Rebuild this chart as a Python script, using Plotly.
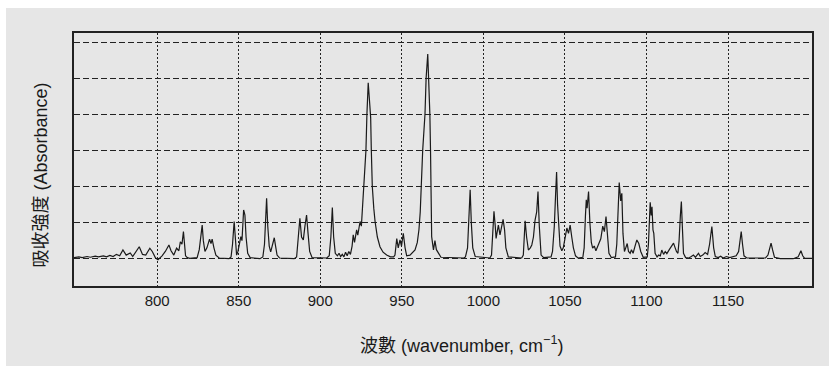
import plotly.graph_objects as go

# Spectrum vertices (wavenumber, absorbance)
wavenumber = [
    749, 752, 754, 757, 759, 762, 764, 767, 769, 771, 773, 775, 777, 779, 781, 783.5, 785, 787, 789, 791,
    793, 795.5, 797, 799, 800.5, 803, 805, 807.2, 808.5, 810.2, 811.9, 813.3, 814.2, 815.2, 816.1, 817.4,
    818.5, 820, 824.5, 825.8, 826.8, 827.6, 828.3, 829.3, 830.5, 832.1, 833, 833.7, 834.8, 836, 838, 844,
    845.3, 846.2, 847.2, 848, 848.7, 849.5, 850.5, 851.3, 852, 853, 853.8, 854.5, 855.5, 857, 863,
    864.8, 865.8, 866.5, 867.1, 867.8, 868.7, 869.6, 870.6, 871.8, 872.6, 873.5, 875, 884,
    885.5, 886.5, 887.5, 888.5, 889.6, 890.6, 891.6, 892.5, 893.5, 895, 904,
    905.5, 906.5, 907.4, 908.2, 909.2, 910.5, 911.5, 912.5, 913.5, 914.5, 915.5, 916.5, 917.5, 918.5,
    919.5, 920.2, 921, 922.3, 923, 924.4, 925.2, 926.2, 926.8, 927.4, 928, 928.6, 929.4, 930.3, 930.9,
    931.3, 931.9, 932.8, 933.6, 935, 936.6, 938.5, 940.7, 943, 945,
    945.8, 946.9, 947.8, 948.9, 949.8, 950.9, 952, 953, 955, 957, 958.1, 959.5, 960.5, 961.3, 961.9,
    962.8, 964.2, 964.9, 965.9, 966.5, 967.2, 967.6, 967.8, 968.0, 968.3, 969.4, 970.3, 971.2, 972.4, 974, 988,
    989, 990.3, 991.2, 991.9, 992.6, 993.5, 995, 1004,
    1005, 1005.8, 1006.5, 1007.3, 1007.8, 1008.5, 1009.2, 1010.2, 1011.2, 1012.1, 1013, 1013.8, 1015.3, 1023.5,
    1024.5, 1025.6, 1026.5, 1027.6, 1028.8, 1029.7, 1030.7, 1031.7, 1032.7, 1033.5, 1034.3, 1035.4, 1037, 1041.5,
    1042.4, 1043.5, 1044.3, 1044.9, 1045.5, 1046.2, 1047, 1048.1, 1049, 1050, 1051.2, 1052.2, 1053.2, 1054.2,
    1055.2, 1056.5, 1058, 1061,
    1061.8, 1062.6, 1063.1, 1063.6, 1064.5, 1065.3, 1066.2, 1067, 1068, 1069, 1070, 1071, 1072, 1073.2, 1074.2,
    1075.2, 1076, 1077, 1078.5, 1081,
    1081.8, 1082.6, 1083.3, 1084.2, 1084.9, 1085.6, 1086.5, 1087.3, 1088.2, 1089, 1090, 1090.8, 1091.8, 1093,
    1094.1, 1095.3, 1096.5, 1098, 1100.5,
    1101.2, 1101.8, 1102.3, 1102.9, 1103.4, 1104.0, 1104.5, 1105.3, 1106.5, 1107.5, 1108.5, 1109.4, 1110.5,
    1111.5, 1112.5, 1114, 1115.5, 1116.6, 1117.6, 1118.4, 1119.3, 1120, 1120.8, 1121.4, 1122, 1122.7, 1124,
    1126, 1127.5, 1128.8, 1130, 1131.9, 1133, 1134.5, 1136, 1137.5, 1138.7, 1140.1, 1141.2, 1142.2, 1144,
    1145.5, 1147, 1149, 1151, 1153, 1155, 1156.5, 1157.4, 1158.1, 1158.9, 1159.8, 1161.5, 1168, 1173, 1174.5,
    1175.5, 1176.4, 1177.3, 1178.5, 1182, 1186, 1190, 1193, 1194.7, 1195.8, 1197, 1201.5,
]
absorbance = [
    0.03, 0.05, 0.03, 0.06, 0.04, 0.07, 0.05, 0.08, 0.05, 0.09, 0.06, 0.12, 0.08, 0.24, 0.10, 0.16, 0.06, 0.18, 0.33, 0.12,
    0.10, 0.29, 0.20, 0.02, -0.03, 0.08, 0.20, 0.38, 0.22, 0.10, 0.29, 0.22, 0.47, 0.40, 0.75, 0.08,
    0.03, 0.01, 0.03, 0.25, 0.60, 0.93, 0.50, 0.20, 0.30, 0.54, 0.42, 0.54, 0.30, 0.10, 0.02, 0.00,
    0.05, 0.40, 1.03, 0.50, 0.10, 0.20, 0.45, 0.61, 0.50, 1.35, 1.21, 0.60, 0.15, 0.03, 0.00,
    0.05, 0.40, 1.00, 1.67, 0.90, 0.35, 0.19, 0.35, 0.58, 0.35, 0.10, 0.02, 0.00,
    0.05, 0.50, 1.12, 0.60, 0.52, 0.90, 1.21, 0.70, 0.20, 0.03, 0.02,
    0.08, 0.60, 1.42, 0.60, 0.15, 0.08, 0.15, 0.06, 0.12, 0.05, 0.18, 0.08, 0.20, 0.12,
    0.35, 0.66, 0.45, 0.80, 0.65, 1.03, 0.90, 1.60, 2.00, 2.40, 3.00, 4.00, 4.87, 4.30, 3.90,
    3.00, 2.00, 1.40, 1.03, 0.60, 0.33, 0.18, 0.10, 0.05, 0.05,
    0.10, 0.56, 0.30, 0.52, 0.35, 0.70, 0.30, 0.08, 0.10, 0.18, 0.24, 0.45, 0.80, 1.30, 2.00,
    3.00, 4.00, 5.00, 5.67, 5.00, 4.00, 3.00, 2.00, 1.00, 0.61, 0.24, 0.50, 0.25, 0.15, 0.04, 0.02,
    0.05, 0.30, 1.00, 1.91, 1.00, 0.30, 0.06, 0.02,
    0.10, 0.60, 1.31, 0.90, 0.56, 0.75, 0.93, 0.66, 0.90, 1.09, 0.80, 0.30, 0.05, 0.02,
    0.10, 1.05, 0.60, 0.24, 0.30, 0.38, 0.60, 1.07, 1.30, 1.86, 0.90, 0.10, 0.03, 0.05,
    0.20, 0.90, 1.80, 2.40, 1.50, 0.80, 0.35, 0.22, 0.30, 0.55, 0.85, 0.70, 0.93, 0.60,
    0.30, 0.08, 0.02, 0.04,
    0.30, 1.20, 1.63, 1.40, 1.86, 1.00, 0.45, 0.29, 0.35, 0.22, 0.32, 0.40, 0.55, 0.90, 0.75,
    1.17, 0.60, 0.15, 0.03, 0.05,
    0.40, 1.30, 2.11, 1.60, 1.81, 0.70, 0.20, 0.30, 0.42, 0.20, 0.15, 0.25, 0.15, 0.35,
    0.52, 0.42, 0.20, 0.04, 0.05,
    0.40, 1.20, 1.56, 1.20, 1.44, 0.80, 0.70, 0.15, 0.05, 0.10, 0.08, 0.24, 0.12,
    0.20, 0.14, 0.25, 0.35, 0.43, 0.30, 0.20, 0.15, 0.50, 1.20, 1.58, 0.90, 0.15, 0.03,
    0.02, 0.06, 0.10, 0.04, 0.15, 0.06, 0.10, 0.17, 0.12, 0.40, 0.89, 0.30, 0.06, 0.03,
    0.07, 0.02, 0.06, 0.03, 0.06, 0.08, 0.20, 0.50, 0.75, 0.40, 0.08, 0.02, 0.01, 0.02, 0.10,
    0.30, 0.43, 0.25, 0.04, 0.00, 0.01, 0.00, 0.05, 0.22, 0.08, 0.01, 0.01,
]

x_ticks = [800, 850, 900, 950, 1000, 1050, 1100, 1150]
x_title = "波數 (wavenumber, cm<sup>−1</sup>)"
y_title = "吸收強度 (Absorbance)"

FONT = "Liberation Sans, Arial, Noto Sans CJK TC, sans-serif"

fig = go.Figure()
fig.add_trace(go.Scatter(
    x=wavenumber, y=absorbance, mode="lines",
    line=dict(color="#1a1a1a", width=1.2),
    hoverinfo="skip", showlegend=False,
))

# light-gray page panel behind the chart (thin white strip at top/left as in the reference)
fig.add_shape(type="rect", xref="paper", yref="paper",
              x0=-0.0921, x1=1.05, y0=-0.35, y1=1.0988,
              fillcolor="#e6e6e6", line=dict(width=0), layer="below")

fig.add_annotation(text=x_title, xref="paper", yref="paper", x=0.525, y=-0.233,
                   showarrow=False, font=dict(size=18, color="#1a1a1a", family=FONT),
                   xanchor="center", yanchor="middle")
fig.add_annotation(text=y_title, xref="paper", yref="paper", x=-0.0447, y=0.437,
                   textangle=-90, showarrow=False,
                   font=dict(size=18, color="#1a1a1a", family=FONT),
                   xanchor="center", yanchor="middle")

fig.update_layout(
    width=829, height=366,
    margin=dict(l=74, r=17, t=33, b=80),
    paper_bgcolor="#ffffff",
    plot_bgcolor="#dee6f4",
    font=dict(family=FONT, color="#1a1a1a"),
    hovermode=False,
    xaxis=dict(
        range=[749, 1201.5], tickvals=x_ticks, ticktext=[str(v) for v in x_ticks],
        showgrid=True, gridcolor="#222222", gridwidth=1, griddash="2px,2px",
        showline=True, linecolor="#222222", linewidth=1.5, mirror=True,
        ticks="", tickfont=dict(size=15, color="#1a1a1a"), zeroline=False,
    ),
    yaxis=dict(
        range=[-0.756, 6.25], tick0=0, dtick=1, showticklabels=False,
        showgrid=True, gridcolor="#222222", gridwidth=1, griddash="6px,3px",
        showline=True, linecolor="#222222", linewidth=1.5, mirror=True,
        ticks="", zeroline=False,
    ),
)

fig.write_html(
    "out.html",
    config={"displayModeBar": False},
    post_script="document.body.style.margin='0';document.body.style.overflow='hidden';",
)
